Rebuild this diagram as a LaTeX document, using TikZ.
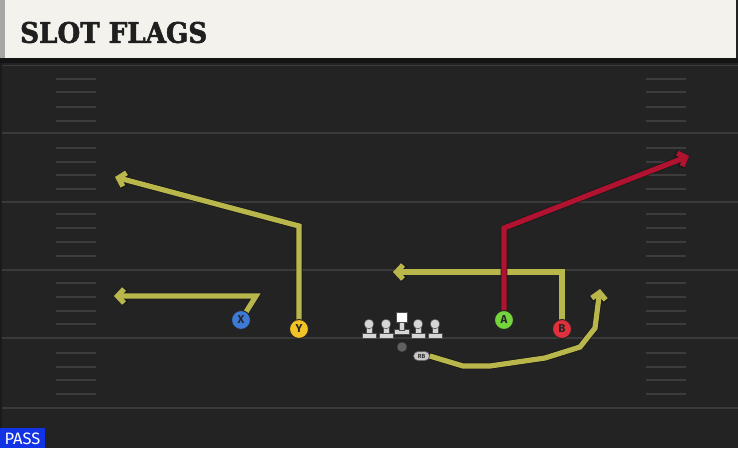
\documentclass[tikz,border=0pt]{standalone}
\usepackage{fontspec}
\setmainfont{DejaVu Serif}
\newfontfamily\sansf{Fira Sans}
\newfontfamily\titlef{DejaVu Serif Bold}[FakeBold=2]
\usetikzlibrary{arrows.meta,shapes.misc}
\definecolor{fieldbg}{HTML}{232323}
\definecolor{yardc}{HTML}{3A3A3A}
\definecolor{hashc}{HTML}{3C3C3C}
\definecolor{titlebg}{HTML}{F4F2EC}
\definecolor{routeY}{HTML}{B9B64B}
\definecolor{routeR}{HTML}{B1122F}
\definecolor{pX}{HTML}{3C7AD6}
\definecolor{pY}{HTML}{F2C325}
\definecolor{pA}{HTML}{74D43C}
\definecolor{pB}{HTML}{E0303C}
\definecolor{passblue}{HTML}{1232E6}
\definecolor{olc}{HTML}{D6D6D6}
\tikzset{
  yardline/.style={draw=yardc, line width=2pt},
  hashmark/.style={draw=hashc, line width=1.6pt},
  routebase/.style={line width=5.2pt, line join=miter,
    -{Straight Barb[length=6.5pt,width=14pt]}},
  route/.style={routebase, draw=#1,
    preaction={draw=black!90, line width=6.8pt, line join=miter,
      -{Straight Barb[length=7pt,width=15pt]}}},
  player/.style={circle, minimum size=19pt, inner sep=0pt, draw=black!85,
    line width=1pt, text=black!85, font=\sansf\bfseries\fontsize{11.5}{11.5}\selectfont},
  rbtag/.style={rounded rectangle, fill=black!22, draw=black!70, line width=0.5pt,
    minimum width=17pt, minimum height=9pt, inner sep=0.5pt,
    font=\sansf\bfseries\fontsize{6}{6}\selectfont, text=black!80},
  olpart/.style={fill=olc, draw=black!70, line width=0.5pt},
}
\begin{document}
\begin{tikzpicture}[x=1pt,y=-1pt]
\useasboundingbox (0,0) rectangle (738,448);
\fill[fieldbg] (0,0) rectangle (738,448);
% title
\fill[titlebg] (0,0) rectangle (736,58);
\fill[black!35] (0,0) rectangle (5,58);
\fill[black!92] (0,58) rectangle (738,63);
\draw[draw=yardc, line width=1pt] (0,65) -- (738,65);
\fill[black!25!fieldbg] (0,63) rectangle (2,448);
\node[anchor=west, inner sep=0pt, text=black!88] (title) at (20,32.5)
  {\resizebox{187pt}{21pt}{\titlef SLOT FLAGS}};
% yard lines
\foreach \yy in {133,202,270,338,408}
  \draw[yardline] (2,\yy) -- (738,\yy);
% hash marks
\foreach \yy in {79,92,107,121,148,162,175,189,214,228,242,256,283,297,311,324,353,367,380,394}{
  \draw[hashmark] (56,\yy) -- (96,\yy);
  \draw[hashmark] (646,\yy) -- (686,\yy);
}
% player positions
\coordinate (cX) at (241,320);
\coordinate (cY) at (299,329);
\coordinate (cA) at (504,320);
\coordinate (cB) at (562,329);
\coordinate (xbend) at (256,296);
\coordinate (xend) at (114,296);
\coordinate (ybend) at (299,226);
\coordinate (yend) at (115,177);
\coordinate (bbend) at (562,272);
\coordinate (bend) at (393,272);
\coordinate (abend) at (504,228);
\coordinate (aend) at (689,156);
% routes
\draw[route=routeY] (cX) -- (xbend) -- (xend);
\draw[route=routeY] (cY) -- (ybend) -- (yend);
\draw[route=routeY] (cB) -- (bbend) -- (bend);
\draw[route=routeR] (cA) -- (abend) -- (aend);
% RB
\node[rbtag] (RB) at (421.5,356) {RB};
\coordinate (r1) at (463,366);
\coordinate (r2) at (490,366);
\coordinate (r3) at (545,358);
\coordinate (r4) at (580,347);
\coordinate (r5) at (595,328);
\coordinate (rend) at (600,289);
\draw[route=routeY] (RB.east) -- (r1) -- (r2) -- (r3) -- (r4) -- (r5) -- (rend);
\node[rbtag] at (RB) {RB};
% players
\node[player, fill=pX] (X) at (cX) {X};
\node[player, fill=pY] (Y) at (cY) {Y};
\node[player, fill=pA] (A) at (cA) {A};
\node[player, fill=pB] (B) at (cB) {B};
% linemen
\foreach \lx in {369,386,418,435}{
  \fill[olpart] (\lx-7,333) rectangle (\lx+7,338);
  \fill[olpart] (\lx-2.8,325) rectangle (\lx+2.8,333.5);
  \fill[olpart] (\lx,324) circle (4.8);
}
\fill[olpart] (394.5,329.5) rectangle (409,334.5);
\fill[olpart] (399,321) rectangle (404.5,330);
\fill[fill=white, draw=black!70, line width=0.5pt] (396.5,312.5) rectangle (407,322);
% ball
\fill[fill=black!62, draw=black!80, line width=0.4pt] (402,347) circle (5);
% pass tag
\fill[passblue] (0,428) rectangle (45,448);
\node[text=white, font=\sansf\fontsize{16.5}{16.5}\selectfont, inner sep=0pt] (pass) at (22.5,438.5) {PASS};
\end{tikzpicture}
\end{document}
